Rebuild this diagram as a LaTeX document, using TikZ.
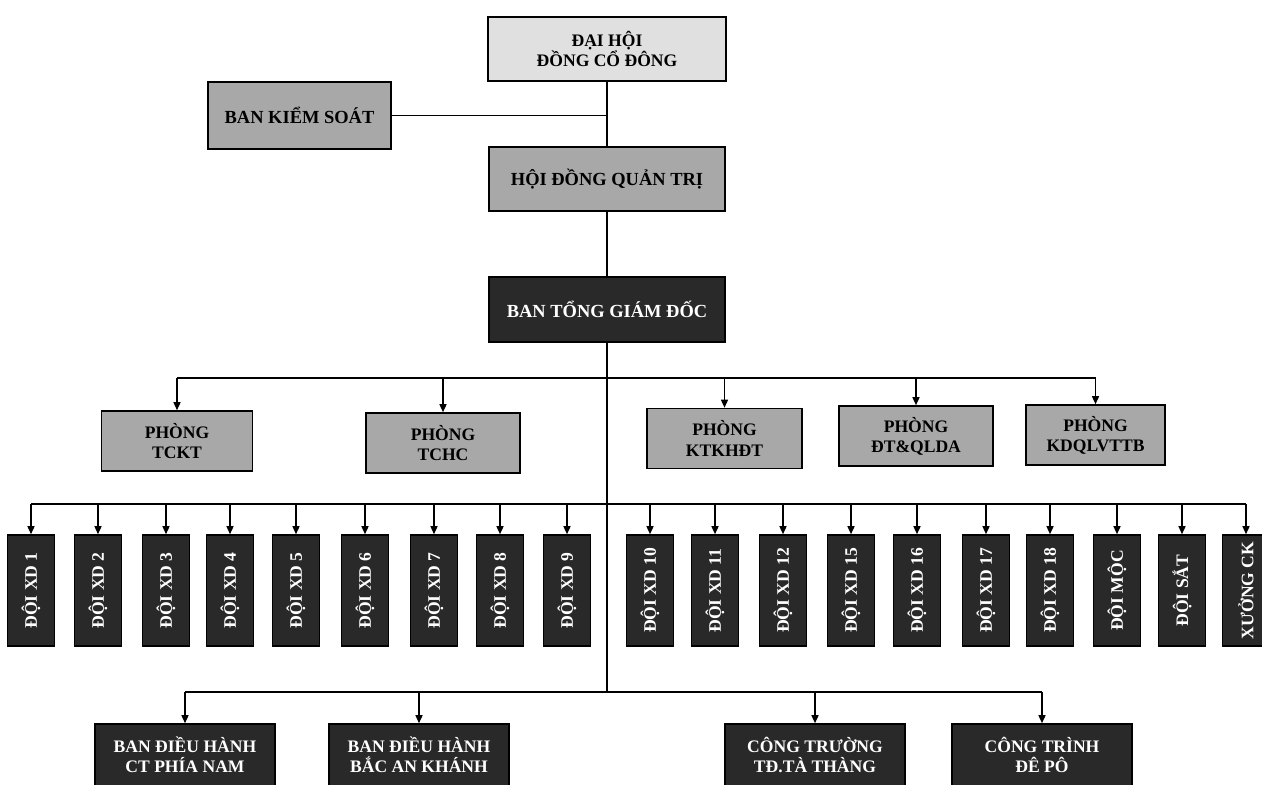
\documentclass[tikz,border=0pt]{standalone}
\usepackage{fontspec}
\setmainfont{Liberation Serif}
\usepackage{tikz}
\usetikzlibrary{arrows.meta, calc, positioning}

\definecolor{boxlight}{gray}{0.88}
\definecolor{boxmid}{gray}{0.66}
\definecolor{boxdark}{gray}{0.16}

\begin{document}
\begin{tikzpicture}[x=0.2mm, y=-0.2mm,
  box/.style={draw, line width=0.9pt, inner sep=0pt, align=center,
    font=\fontsize{10}{11.5}\selectfont\bfseries},
  bigbox/.style={box, font=\fontsize{10.5}{12}\selectfont\bfseries},
  phongbox/.style={box, fill=boxmid, minimum height=12mm},
  doibox/.style={box, fill=boxdark, text=white, minimum width=9.4mm, minimum height=22.2mm},
  banbox/.style={box, fill=boxdark, text=white, minimum width=36mm, minimum height=12.4mm},
  link/.style={line width=0.8pt},
  arr/.style={link, -{Triangle[length=1.6mm,width=1.4mm]}}]
\useasboundingbox (0,0) rectangle (1262,785);
\clip (0,0) rectangle (1262,785);

% top of the chart
\node[box, fill=boxlight, minimum width=47.6mm, minimum height=12.8mm] (dhcd) at (607,49) {ĐẠI HỘI\\ĐỒNG CỔ ĐÔNG};
\node[bigbox, fill=boxmid, minimum width=36.6mm, minimum height=13.4mm] (bks) at (299.5,115.5) {BAN KIỂM SOÁT};
\node[bigbox, fill=boxmid, minimum width=47.2mm, minimum height=12.8mm] (hdqt) at (607,179) {HỘI ĐỒNG QUẢN TRỊ};
\node[bigbox, fill=boxdark, text=white, minimum width=47.2mm, minimum height=13mm] (btgd) at (607,309.5) {BAN TỔNG GIÁM ĐỐC};

\draw[link] (dhcd) -- (hdqt);
\draw[link] (bks.east) -- (bks.east -| dhcd.south);
\draw[link] (hdqt) -- (btgd);

\coordinate (bus1) at (607,378);
\coordinate (bus2) at (607,504);
\coordinate (bus3) at (607,692);
\draw[link] (btgd.south) -- (bus3);

% phong ban
\node[phongbox, minimum width=30.2mm] (tckt) at (177,441) {PHÒNG\\TCKT};
\node[phongbox, minimum width=30.8mm] (tchc) at (443,443) {PHÒNG\\TCHC};
\node[phongbox, minimum width=31mm] (ktkhdt) at (724.5,438.5) {PHÒNG\\KTKHĐT};
\node[phongbox, minimum width=30.8mm] (dtqlda) at (916,436) {PHÒNG\\ĐT\&QLDA};
\node[phongbox, minimum width=27.8mm] (kdql) at (1095.5,435) {PHÒNG\\KDQLVTTB};
\draw[link] (tckt.north |- bus1) -- (kdql.north |- bus1);
\foreach \n in {tckt,tchc,ktkhdt,dtqlda,kdql}
  \draw[arr] (\n.north |- bus1) -- (\n.north);

% doi xay dung
\node[doibox] (xd1) at (31,590.5) {\rotatebox{90}{ĐỘI XD 1}};
\node[doibox] (xd2) at (98,590.5) {\rotatebox{90}{ĐỘI XD 2}};
\node[doibox] (xd3) at (166,590.5) {\rotatebox{90}{ĐỘI XD 3}};
\node[doibox] (xd4) at (230,590.5) {\rotatebox{90}{ĐỘI XD 4}};
\node[doibox] (xd5) at (296,590.5) {\rotatebox{90}{ĐỘI XD 5}};
\node[doibox] (xd6) at (365,590.5) {\rotatebox{90}{ĐỘI XD 6}};
\node[doibox] (xd7) at (434,590.5) {\rotatebox{90}{ĐỘI XD 7}};
\node[doibox] (xd8) at (500,590.5) {\rotatebox{90}{ĐỘI XD 8}};
\node[doibox] (xd9) at (567,590.5) {\rotatebox{90}{ĐỘI XD 9}};
\node[doibox] (xd10) at (650,590.5) {\rotatebox{90}{ĐỘI XD 10}};
\node[doibox] (xd11) at (715,590.5) {\rotatebox{90}{ĐỘI XD 11}};
\node[doibox] (xd12) at (783,590.5) {\rotatebox{90}{ĐỘI XD 12}};
\node[doibox] (xd15) at (851,590.5) {\rotatebox{90}{ĐỘI XD 15}};
\node[doibox] (xd16) at (917,590.5) {\rotatebox{90}{ĐỘI XD 16}};
\node[doibox] (xd17) at (986,590.5) {\rotatebox{90}{ĐỘI XD 17}};
\node[doibox] (xd18) at (1050,590.5) {\rotatebox{90}{ĐỘI XD 18}};
\node[doibox] (moc) at (1117,590.5) {\rotatebox{90}{ĐỘI MỘC}};
\node[doibox] (sat) at (1182,590.5) {\rotatebox{90}{ĐỘI SẮT}};
\node[doibox] (xck) at (1246,590.5) {\rotatebox{90}{XƯỞNG CK}};
\draw[link] (xd1.north |- bus2) -- (xck.north |- bus2);
\foreach \n in {xd1,xd2,xd3,xd4,xd5,xd6,xd7,xd8,xd9,xd10,xd11,xd12,xd15,xd16,xd17,xd18,moc,sat,xck}
  \draw[arr] (\n.north |- bus2) -- (\n.north);

% ban dieu hanh, cong truong
\node[banbox] (bdhnam) at (185,755) {BAN ĐIỀU HÀNH\\CT PHÍA NAM};
\node[banbox] (bdhbak) at (419,755) {BAN ĐIỀU HÀNH\\BẮC AN KHÁNH};
\node[banbox] (cttt) at (815,755) {CÔNG TRƯỜNG\\TĐ.TÀ THÀNG};
\node[banbox] (ctdp) at (1042,755) {CÔNG TRÌNH\\ĐÊ PÔ};
\draw[link] (bdhnam.north |- bus3) -- (ctdp.north |- bus3);
\foreach \n in {bdhnam,bdhbak,cttt,ctdp}
  \draw[arr] (\n.north |- bus3) -- (\n.north);
%\draw[step=50,color=gray!50!white] (0,0) grid (1262,785);

\end{tikzpicture}
\end{document}
